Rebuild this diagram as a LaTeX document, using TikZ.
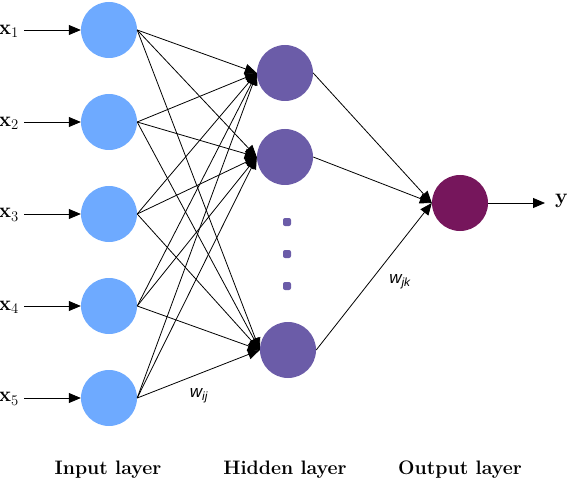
\documentclass[tikz,border=0pt]{standalone}
\usepackage{fontspec}
\newfontfamily\wfont{Liberation Sans}
\usetikzlibrary{arrows.meta}
\definecolor{inblue}{RGB}{110,170,255}
\definecolor{hidpurp}{RGB}{107,92,168}
\definecolor{outmag}{RGB}{118,22,92}
\tikzset{
  neuron/.style={circle,draw=none,minimum size=56pt,inner sep=0pt},
  inneuron/.style={neuron,fill=inblue},
  hidneuron/.style={neuron,fill=hidpurp},
  outneuron/.style={neuron,fill=outmag},
  conn/.style={-{Triangle[length=12pt,width=10pt]},line width=0.8pt,black},
  dotmark/.style={rectangle,rounded corners=2pt,fill=hidpurp,minimum size=8pt,inner sep=0pt},
  xlab/.style={anchor=east,inner sep=0pt,font=\fontsize{21}{24}\selectfont},
  layerlab/.style={font=\fontsize{19.5}{23}\selectfont\bfseries},
  wlab/.style={font=\wfont\itshape\fontsize{17}{20}\selectfont}
}
\begin{document}
\begin{tikzpicture}[x=1pt,y=-1pt]
\useasboundingbox (0,0) rectangle (569,486);
% input nodes
\foreach \i/\y in {1/30,2/122,3/214,4/306,5/398}{
  \node[inneuron] (i\i) at (109,\y) {};
  \node[xlab] (xl\i) at (19,\y+1) {\textbf{x}\textsubscript{\i}};
  \coordinate (xs\i) at (24,\y);
  \draw[conn] (xs\i) -- (i\i.west);
}
% hidden nodes
\node[hidneuron] (h1) at (285,73) {};
\node[hidneuron] (h2) at (285,157) {};
\node[hidneuron] (h3) at (288,350) {};
\node[dotmark] (d1) at (287,222) {};
\node[dotmark] (d2) at (287,254) {};
\node[dotmark] (d3) at (287,286) {};
% output
\node[outneuron] (o) at (460,203) {};
\node[anchor=west,inner sep=0pt,font=\fontsize{21}{24}\selectfont\bfseries] (y) at (555,201) {y};
\coordinate (yend) at (545,203);
\draw[conn] (o.east) -- (yend);
% connections
\foreach \i in {1,...,5}{
  \foreach \h in {1,2,3}{
    \draw[conn] (i\i.east) -- (h\h.west);
  }
}
\foreach \h in {1,2,3}{
  \draw[conn] (h\h.east) -- (o.west);
}
% weight labels
\node[wlab] (wij) at (199,396) {w\textsubscript{ij}};
\node[wlab] (wjk) at (400,282) {w\textsubscript{jk}};
% layer labels
\node[layerlab] (L1) at (108,470) {Input layer};
\node[layerlab] (L2) at (285,470) {Hidden layer};
\node[layerlab] (L3) at (460,470) {Output layer};
\end{tikzpicture}
\end{document}
